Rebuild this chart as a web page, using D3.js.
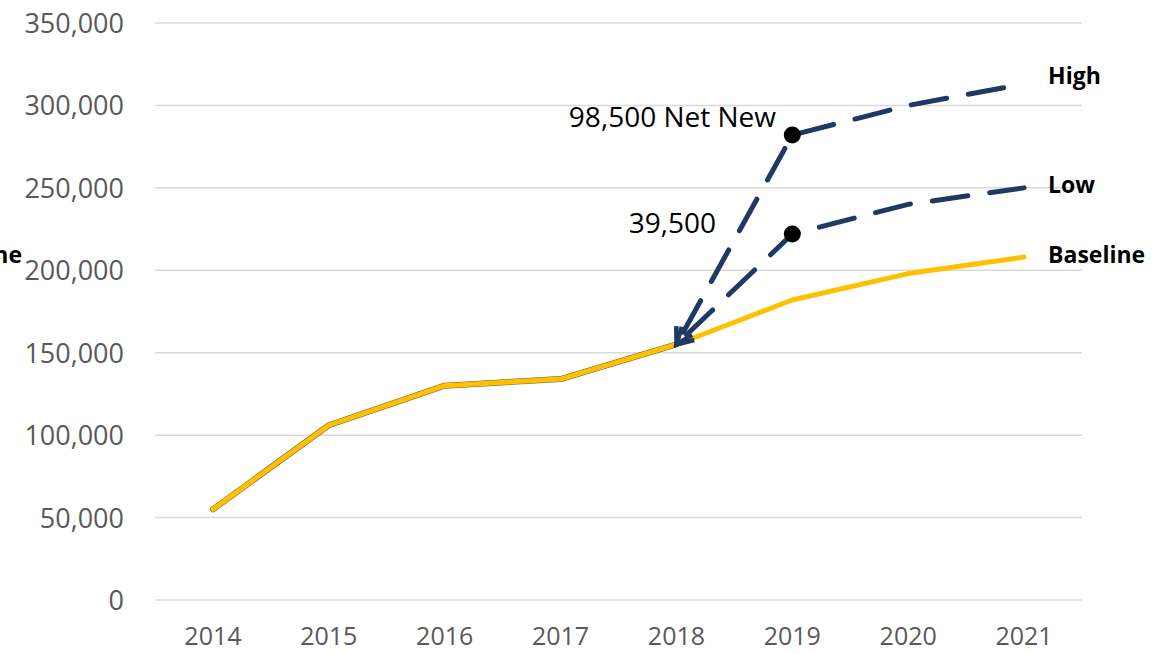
<!DOCTYPE html>
<html>
<head>
<meta charset="utf-8">
<script src="https://cdn.jsdelivr.net/npm/d3@7"></script>
<style>
  body { margin: 0; background: #fff; }
  svg { display: block; }
  text { font-family: "Open Sans", sans-serif; }
</style>
</head>
<body>
<svg width="1171" height="653"></svg>
<script>
const years = ["2014", "2015", "2016", "2017", "2018", "2019", "2020", "2021"];
const baseline = [55000, 106000, 130000, 134000, 155000, 182000, 198000, 208000];
const high = [null, null, null, null, 155000, 282000, 300000, 313000];
const low = [null, null, null, null, 155000, 222000, 240000, 250000];
const yTicks = [0, 50000, 100000, 150000, 200000, 250000, 300000, 350000];

const svg = d3.select("svg");
const navy = "#1f3864";
const gold = "#ffc000";

const x = d3.scaleBand().domain(years).range([155, 1082]);
const y = d3.scaleLinear().domain([0, 350000]).range([600, 23]);
const cx = d => x(d) + x.bandwidth() / 2;

// grid
svg.append("g")
  .selectAll("line")
  .data(yTicks)
  .enter().append("line")
  .attr("x1", 155).attr("x2", 1082)
  .attr("y1", d => y(d)).attr("y2", d => y(d))
  .attr("stroke", "#d9d9d9")
  .attr("stroke-width", 1.5);

// y labels
svg.append("g")
  .selectAll("text")
  .data(yTicks)
  .enter().append("text")
  .attr("x", 124)
  .attr("y", d => y(d) + 10)
  .attr("text-anchor", "end")
  .attr("font-size", 27)
  .attr("fill", "#595959")
  .text(d => d3.format(",")(d));

// x labels
svg.append("g")
  .selectAll("text")
  .data(years)
  .enter().append("text")
  .attr("x", d => cx(d))
  .attr("y", 645)
  .attr("text-anchor", "middle")
  .attr("font-size", 25)
  .attr("fill", "#595959")
  .text(d => d);

// arrowhead marker
svg.append("defs").append("marker")
  .attr("id", "arrow")
  .attr("viewBox", "0 0 24 24")
  .attr("refX", 20).attr("refY", 12)
  .attr("markerWidth", 24).attr("markerHeight", 24)
  .attr("markerUnits", "userSpaceOnUse")
  .attr("orient", "auto-start-reverse")
  .append("path")
  .attr("d", "M4,3 L20,12 L4,21")
  .attr("fill", "none")
  .attr("stroke", navy)
  .attr("stroke-width", 4.5)
  .attr("stroke-linejoin", "miter");

const line = d3.line()
  .defined(d => d.v != null)
  .x(d => cx(d.year))
  .y(d => y(d.v));

const pts = arr => years.map((yr, i) => ({ year: yr, v: arr[i] }));

// historic underlay
svg.append("path")
  .datum(pts(baseline).slice(0, 5))
  .attr("d", line)
  .attr("fill", "none")
  .attr("stroke", "#6b6440")
  .attr("stroke-width", 6)
  .attr("stroke-linejoin", "round")
  .attr("stroke-linecap", "round");

svg.append("path")
  .datum(pts(baseline))
  .attr("d", line)
  .attr("fill", "none")
  .attr("stroke", gold)
  .attr("stroke-width", 5)
  .attr("stroke-linejoin", "round")
  .attr("stroke-linecap", "round");

// scenario lines
[high, low].forEach(arr => {
  svg.append("path")
    .datum(pts(arr).filter(d => d.v != null))
    .attr("d", line)
    .attr("fill", "none")
    .attr("stroke", navy)
    .attr("stroke-width", 5)
    .attr("stroke-dasharray", "36,22")
    .attr("stroke-dashoffset", -14)
    .attr("stroke-linecap", "round")
    .attr("marker-start", "url(#arrow)");
});

// dots at 2019
svg.append("g")
  .selectAll("circle")
  .data([high[5], low[5]])
  .enter().append("circle")
  .attr("cx", cx("2019"))
  .attr("cy", d => y(d))
  .attr("r", 8.5)
  .attr("fill", "#000");

// annotations
svg.append("text")
  .attr("x", 776).attr("y", 127)
  .attr("text-anchor", "end")
  .attr("font-size", 28)
  .attr("fill", "#000")
  .text("98,500 Net New");

svg.append("text")
  .attr("x", 716).attr("y", 233)
  .attr("text-anchor", "end")
  .attr("font-size", 28)
  .attr("fill", "#000")
  .text("39,500");

// series labels
const labels = [
  { name: "High", v: high[7], dy: -8 },
  { name: "Low", v: low[7], dy: -3 },
  { name: "Baseline", v: baseline[7], dy: -2 }
];
svg.append("g")
  .selectAll("text")
  .data(labels)
  .enter().append("text")
  .attr("x", cx("2021") + 24)
  .attr("y", d => y(d.v) + d.dy)
  .attr("dy", "0.35em")
  .attr("font-size", 23)
  .attr("font-weight", "bold")
  .attr("fill", "#000")
  .text(d => d.name);

// clipped label on the far left
svg.append("text")
  .attr("x", 22).attr("y", 263)
  .attr("text-anchor", "end")
  .attr("font-size", 23)
  .attr("font-weight", "bold")
  .attr("fill", "#000")
  .text("Baseline");
</script>
</body>
</html>
